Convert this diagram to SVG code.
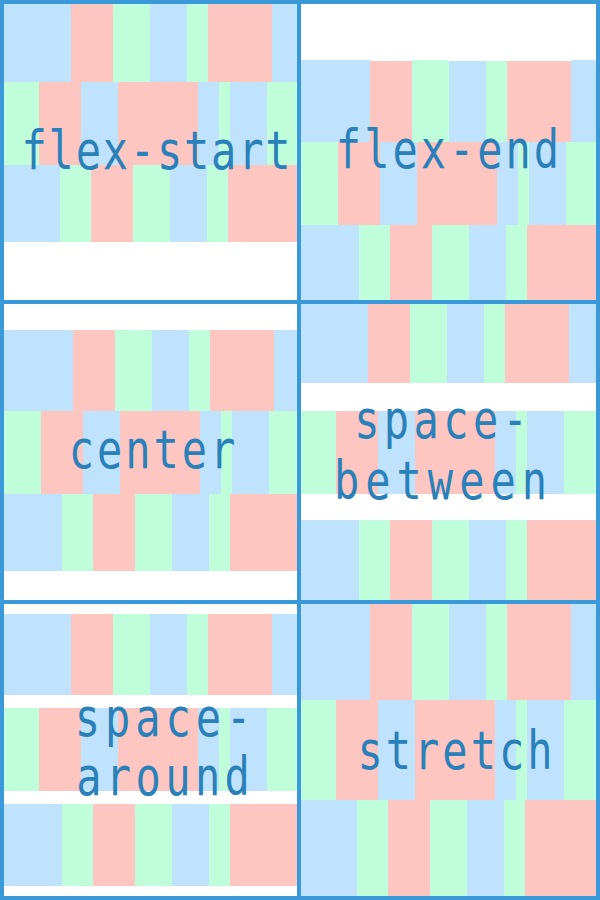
<svg xmlns="http://www.w3.org/2000/svg" width="600" height="900" viewBox="0 0 600 900">
<style>
.b{fill:#bfe2fd}
.r{fill:#fdc6c0}
.g{fill:#c0fddb}
.bd{fill:#3a9ad9}
.t{font-family:"DejaVu Sans Mono","Liberation Mono",monospace;font-size:42px;letter-spacing:3px;fill:#2a80b9;text-anchor:middle}
</style>
<rect x="0" y="0" width="600" height="900" fill="#ffffff"/>
<g id="flex-start">
<rect class="b" x="4" y="4" width="67" height="78"/><rect class="r" x="71" y="4" width="42" height="78"/><rect class="g" x="113" y="4" width="37" height="78"/><rect class="b" x="150" y="4" width="37" height="78"/><rect class="g" x="187" y="4" width="21" height="78"/><rect class="r" x="208" y="4" width="64" height="78"/><rect class="b" x="272" y="4" width="25" height="78"/>
<rect class="g" x="4" y="82" width="35" height="83"/><rect class="r" x="39" y="82" width="42" height="83"/><rect class="b" x="81" y="82" width="37" height="83"/><rect class="r" x="118" y="82" width="80" height="83"/><rect class="b" x="198" y="82" width="21" height="83"/><rect class="g" x="219" y="82" width="11" height="83"/><rect class="b" x="230" y="82" width="37" height="83"/><rect class="g" x="267" y="82" width="30" height="83"/>
<rect class="b" x="4" y="165" width="56" height="77"/><rect class="g" x="60" y="165" width="31" height="77"/><rect class="r" x="91" y="165" width="42" height="77"/><rect class="g" x="133" y="165" width="37" height="77"/><rect class="b" x="170" y="165" width="37" height="77"/><rect class="g" x="207" y="165" width="21" height="77"/><rect class="r" x="228" y="165" width="69" height="77"/>
<text class="t" style="letter-spacing:1.8px" transform="translate(156.9,169) scale(1,1.27)">flex-start</text>
</g>
<g id="flex-end">
<rect class="b" x="301" y="60" width="69" height="82"/><rect class="r" x="370" y="61" width="42" height="81"/><rect class="g" x="412" y="60" width="37" height="82"/><rect class="b" x="449" y="61" width="37" height="81"/><rect class="g" x="486" y="61" width="21" height="81"/><rect class="r" x="507" y="61" width="64" height="81"/><rect class="b" x="571" y="60" width="25" height="82"/>
<rect class="g" x="301" y="142" width="37" height="83"/><rect class="r" x="338" y="142" width="42" height="83"/><rect class="b" x="380" y="142" width="37" height="83"/><rect class="r" x="417" y="142" width="80" height="83"/><rect class="b" x="497" y="142" width="21" height="83"/><rect class="g" x="518" y="142" width="11" height="83"/><rect class="b" x="529" y="142" width="37" height="83"/><rect class="g" x="566" y="142" width="30" height="83"/>
<rect class="b" x="301" y="225" width="58" height="75"/><rect class="g" x="359" y="225" width="31" height="75"/><rect class="r" x="390" y="225" width="42" height="75"/><rect class="g" x="432" y="225" width="37" height="75"/><rect class="b" x="469" y="225" width="37" height="75"/><rect class="g" x="506" y="225" width="21" height="75"/><rect class="r" x="527" y="225" width="69" height="75"/>
<text class="t" transform="translate(449,168) scale(1,1.27)">flex-end</text>
</g>
<g id="center">
<rect class="b" x="4" y="330" width="69" height="81"/><rect class="r" x="73" y="330" width="42" height="81"/><rect class="g" x="115" y="330" width="37" height="81"/><rect class="b" x="152" y="330" width="37" height="81"/><rect class="g" x="189" y="330" width="21" height="81"/><rect class="r" x="210" y="330" width="64" height="81"/><rect class="b" x="274" y="330" width="23" height="81"/>
<rect class="g" x="4" y="411" width="37" height="83"/><rect class="r" x="41" y="411" width="42" height="83"/><rect class="b" x="83" y="411" width="37" height="83"/><rect class="r" x="120" y="411" width="80" height="83"/><rect class="b" x="200" y="411" width="21" height="83"/><rect class="g" x="221" y="411" width="11" height="83"/><rect class="b" x="232" y="411" width="37" height="83"/><rect class="g" x="269" y="411" width="28" height="83"/>
<rect class="b" x="4" y="494" width="58" height="77"/><rect class="g" x="62" y="494" width="31" height="77"/><rect class="r" x="93" y="494" width="42" height="77"/><rect class="g" x="135" y="494" width="37" height="77"/><rect class="b" x="172" y="494" width="37" height="77"/><rect class="g" x="209" y="494" width="21" height="77"/><rect class="r" x="230" y="494" width="67" height="77"/>
<text class="t" transform="translate(153.5,468) scale(1,1.27)">center</text>
</g>
<g id="space-between">
<rect class="b" x="301" y="304" width="67" height="79"/><rect class="r" x="368" y="304" width="42" height="79"/><rect class="g" x="410" y="304" width="37" height="79"/><rect class="b" x="447" y="304" width="37" height="79"/><rect class="g" x="484" y="304" width="21" height="79"/><rect class="r" x="505" y="304" width="64" height="79"/><rect class="b" x="569" y="304" width="27" height="79"/>
<rect class="g" x="301" y="411" width="35" height="83"/><rect class="r" x="336" y="411" width="42" height="83"/><rect class="b" x="378" y="411" width="37" height="83"/><rect class="r" x="415" y="411" width="80" height="83"/><rect class="b" x="495" y="411" width="21" height="83"/><rect class="g" x="516" y="411" width="11" height="83"/><rect class="b" x="527" y="411" width="37" height="83"/><rect class="g" x="564" y="411" width="32" height="83"/>
<rect class="b" x="301" y="520" width="58" height="80"/><rect class="g" x="359" y="520" width="31" height="80"/><rect class="r" x="390" y="520" width="42" height="80"/><rect class="g" x="432" y="520" width="37" height="80"/><rect class="b" x="469" y="520" width="37" height="80"/><rect class="g" x="506" y="520" width="21" height="80"/><rect class="r" x="527" y="520" width="69" height="80"/>
<text class="t" style="letter-spacing:4.4px" transform="translate(443.2,438) scale(1,1.27)">space-</text>
<text class="t" style="letter-spacing:6px" transform="translate(443.5,499) scale(1,1.27)">between</text>
</g>
<g id="space-around">
<rect class="b" x="4" y="614" width="67" height="81"/><rect class="r" x="71" y="614" width="42" height="81"/><rect class="g" x="113" y="614" width="37" height="81"/><rect class="b" x="150" y="614" width="37" height="81"/><rect class="g" x="187" y="614" width="21" height="81"/><rect class="r" x="208" y="614" width="64" height="81"/><rect class="b" x="272" y="614" width="25" height="81"/>
<rect class="g" x="4" y="708" width="35" height="83"/><rect class="r" x="39" y="708" width="42" height="83"/><rect class="b" x="81" y="708" width="37" height="83"/><rect class="r" x="118" y="708" width="80" height="83"/><rect class="b" x="198" y="708" width="21" height="83"/><rect class="g" x="219" y="708" width="11" height="83"/><rect class="b" x="230" y="708" width="37" height="83"/><rect class="g" x="267" y="708" width="30" height="83"/>
<rect class="b" x="4" y="804" width="58" height="82"/><rect class="g" x="62" y="804" width="31" height="82"/><rect class="r" x="93" y="804" width="42" height="82"/><rect class="g" x="135" y="804" width="37" height="82"/><rect class="b" x="172" y="804" width="37" height="82"/><rect class="g" x="209" y="804" width="21" height="82"/><rect class="r" x="230" y="804" width="67" height="82"/>
<text class="t" style="letter-spacing:5px" transform="translate(165.5,736) scale(1,1.27)">space-</text>
<text class="t" style="letter-spacing:4.4px" transform="translate(165.2,795) scale(1,1.27)">around</text>
</g>
<g id="stretch">
<rect class="b" x="301" y="604" width="69" height="96"/><rect class="r" x="370" y="604" width="42" height="96"/><rect class="g" x="412" y="604" width="37" height="96"/><rect class="b" x="449" y="604" width="37" height="96"/><rect class="g" x="486" y="604" width="21" height="96"/><rect class="r" x="507" y="604" width="64" height="96"/><rect class="b" x="571" y="604" width="25" height="96"/>
<rect class="g" x="301" y="700" width="35" height="100"/><rect class="r" x="336" y="700" width="42" height="100"/><rect class="b" x="378" y="700" width="37" height="100"/><rect class="r" x="415" y="700" width="80" height="100"/><rect class="b" x="495" y="700" width="21" height="100"/><rect class="g" x="516" y="700" width="11" height="100"/><rect class="b" x="527" y="700" width="37" height="100"/><rect class="g" x="564" y="700" width="32" height="100"/>
<rect class="b" x="301" y="800" width="56" height="96"/><rect class="g" x="357" y="800" width="31" height="96"/><rect class="r" x="388" y="800" width="42" height="96"/><rect class="g" x="430" y="800" width="37" height="96"/><rect class="b" x="467" y="800" width="37" height="96"/><rect class="g" x="504" y="800" width="21" height="96"/><rect class="r" x="525" y="800" width="71" height="96"/>
<text class="t" transform="translate(456.5,769) scale(1,1.27)">stretch</text>
</g>
<g id="borders">
<rect class="bd" x="0" y="0" width="4" height="900"/>
<rect class="bd" x="297" y="0" width="4" height="900"/>
<rect class="bd" x="596" y="0" width="4" height="900"/>
<rect class="bd" x="0" y="0" width="600" height="4"/>
<rect class="bd" x="0" y="300" width="600" height="4"/>
<rect class="bd" x="0" y="600" width="600" height="4"/>
<rect class="bd" x="0" y="896" width="600" height="4"/>
</g>
</svg>
